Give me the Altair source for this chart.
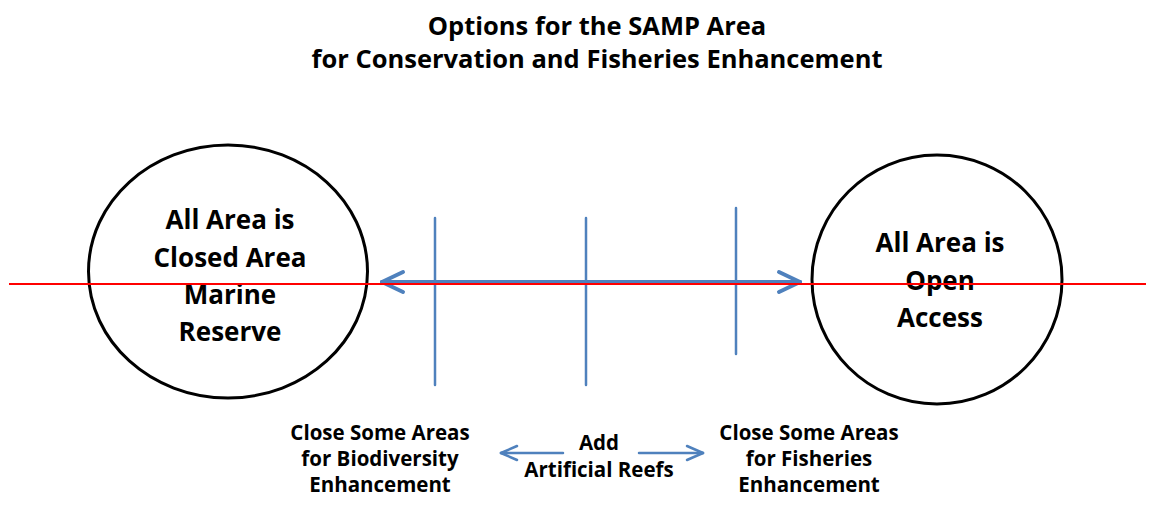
import altair as alt
import pandas as pd

# ---- text content ----
title_lines = ["Options for the SAMP Area", "for Conservation and Fisheries Enhancement"]
left_circle_lines = ["All Area is", "Closed Area", "Marine", "Reserve"]
right_circle_lines = ["All Area is", "Open", "Access"]
option_left_lines = ["Close Some Areas", "for Biodiversity", "Enhancement"]
option_mid_lines = ["Add", "Artificial Reefs"]
option_right_lines = ["Close Some Areas", "for Fisheries", "Enhancement"]

# ---- layout (page pixel coordinates) ----
W, H = 1146, 498          # right / bottom edge of drawing area in page pixels
FONT = "Open Sans"
title_size, circle_size, option_size = 25.5, 26, 20.5
title_x, title_y = 597, [35, 68]
left_x, left_y = 230, [229, 267, 304, 341]
right_x, right_y = 940, [252, 290, 327]
optL_x, optR_x, optM_x = 380, 809, 599
opt_y = [440, 466, 492]
optM_y = [450, 477]

circle_cx = [228, 937]
circle_cy = [271.5, 279.5]
circle_w = [279, 250]
circle_ratio = [0.907, 0.996]

blue = "#4F81BD"
vert_x = [435, 586, 736]
vert_top = [218, 218, 208]
vert_bot = [385, 385, 354]

main_arrow = (382, 800, 282)
small_left = (563, 501, 453)
small_right = (639, 703, 453)
red_line = (9, 1154, 284)

# ---- build tables ----
segs = []
def seg(x1, y1, x2, y2, color, w):
    segs.append(dict(x=x1, y=y1, x2=x2, y2=y2, color=color, w=w))

a0, a1, ay = main_arrow
seg(a0, ay, a1, ay, blue, 4)
for tip, d in ((a0, 1), (a1, -1)):
    seg(tip, ay, tip + d * 21, ay - 10, blue, 4)
    seg(tip, ay, tip + d * 21, ay + 10, blue, 4)
for vx, t, b in zip(vert_x, vert_top, vert_bot):
    seg(vx, t, vx, b, blue, 2.5)
for (s, tip, y) in (small_left, small_right):
    d = 1 if s > tip else -1
    seg(s, y, tip, y, blue, 2.5)
    seg(tip, y, tip + d * 16, y - 7, blue, 2.5)
    seg(tip, y, tip + d * 16, y + 7, blue, 2.5)
segs_df = pd.DataFrame(segs)
red_df = pd.DataFrame([dict(x=red_line[0], x2=red_line[1], y=red_line[2], y2=red_line[2])])

texts = []
def add_text(lines, x, ys, size):
    for t, y in zip(lines, ys):
        texts.append(dict(x=x, y=y, text=t, size=size))
add_text(title_lines, title_x, title_y, title_size)
add_text(left_circle_lines, left_x, left_y, circle_size)
add_text(right_circle_lines, right_x, right_y, circle_size)
add_text(option_left_lines, optL_x, opt_y, option_size)
add_text(option_right_lines, optR_x, opt_y, option_size)
add_text(option_mid_lines, optM_x, optM_y, option_size)
text_df = pd.DataFrame(texts)

xs = alt.Scale(domain=[8, W], nice=False, zero=False)
ys = alt.Scale(domain=[8, H], nice=False, zero=False, reverse=True)
X = lambda f: alt.X(f, type="quantitative", scale=xs, axis=None)
Y = lambda f: alt.Y(f, type="quantitative", scale=ys, axis=None)

def ellipse_path(r):
    k = 0.5523
    return (f"M1,0C1,{k*r:.3f} {k:.3f},{r:.3f} 0,{r:.3f}"
            f"C{-k:.3f},{r:.3f} -1,{k*r:.3f} -1,0"
            f"C-1,{-k*r:.3f} {-k:.3f},{-r:.3f} 0,{-r:.3f}"
            f"C{k:.3f},{-r:.3f} 1,{-k*r:.3f} 1,0Z")

circle_layers = []
for cx, cy, w, r in zip(circle_cx, circle_cy, circle_w, circle_ratio):
    df = pd.DataFrame([dict(x=cx, y=cy)])
    circle_layers.append(
        alt.Chart(df).mark_point(shape=ellipse_path(r), size=w * w, filled=False,
                                 stroke="black", strokeWidth=3, opacity=1)
        .encode(x=X("x"), y=Y("y"))
    )

rules = alt.Chart(segs_df).mark_rule(strokeCap="round").encode(
    x=X("x"), y=Y("y"), x2="x2", y2="y2",
    color=alt.Color("color:N", scale=None),
    strokeWidth=alt.StrokeWidth("w:Q", scale=None),
)

red = alt.Chart(red_df).mark_rule(color="#FF0000", strokeWidth=2, clip=False).encode(
    x=X("x"), y=Y("y"), x2="x2", y2="y2"
)

labels = alt.Chart(text_df).mark_text(
    align="center", baseline="alphabetic", font=FONT, fontWeight="bold", color="black"
).encode(
    x=X("x"), y=Y("y"), text="text:N", size=alt.Size("size:Q", scale=None)
)

chart = alt.layer(*circle_layers, rules, labels, red).properties(
    width=W - 8, height=H - 8, padding=0, autosize=alt.AutoSizeParams(type="none"),
    background="white"
).configure_view(stroke=None)

chart.save("out.html", embed_options={"renderer": "svg", "actions": False})
